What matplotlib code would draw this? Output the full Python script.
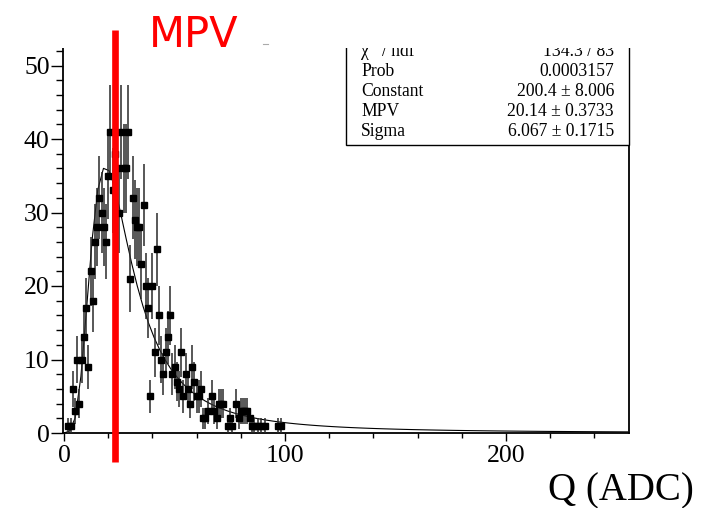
import numpy as np
import matplotlib
matplotlib.use("Agg")
import matplotlib.pyplot as plt
from matplotlib.patches import Rectangle
from matplotlib.lines import Line2D

# ---------------- data (histogram bin contents, bin width 1, centres at integers)
bin_centers = list(range(0, 100))
counts = [0, 0, 1, 1, 6, 3, 10, 4, 10, 13,
          17, 9, 22, 18, 26, 28, 32, 30, 28, 26,
          35, 41, 33, 38, 36, 30, 41, 36, 36, 41,
          21, 32, 29, 28, 28, 23, 31, 20, 17, 5,
          20, 11, 25, 16, 10, 8, 11, 13, 16, 8,
          9, 7, 6, 11, 5, 8, 6, 4, 9, 7,
          5, 5, 6, 2, 2, 3, 0, 5, 3, 2,
          4, 4, 4, 0, 1, 2, 1, 0, 4, 2,
          3, 3, 3, 3, 2, 1, 1, 0, 1, 1,
          0, 1, 0, 0, 0, 0, 0, 1, 1, 0]

# fit result (Landau)
fit_constant = 200.4
fit_mpv = 20.14
fit_sigma = 6.067

# (the superscript 2 of chi^2 is covered in the original slide)
stat_labels = ["\u03c7   / ndf", "Prob", "Constant", "MPV", "Sigma"]
stat_values = ["134.3 / 83", "0.0003157", "200.4 \u00b1 8.006",
               "20.14 \u00b1 0.3733", "6.067 \u00b1 0.1715"]

mpv_marker_x = 23.1
xlim = (-0.5, 255.5)
ylim = (0, 55)
x_major = [0, 100, 200]
x_minor = list(range(20, 256, 20))
y_major = [0, 10, 20, 30, 40, 50]
y_minor = list(range(0, 53, 2))
xlabel = "Q (ADC)"
annot = "MPV"


def landau_pdf(v):
    k = np.linspace(1e-9, 40.0, 40001)
    v = np.atleast_1d(v)[:, None]
    integ = np.exp(-np.pi / 2 * k) * np.cos(k * v + k * np.log(k))
    return np.trapezoid(integ, k, axis=1) / np.pi


W, H = 709, 508
fig = plt.figure(figsize=(W / 100, H / 100), dpi=100)
plt.rcParams['font.family'] = ['Liberation Serif', 'DejaVu Serif']


def fx(px):
    return px / W


def fy(py):
    return 1 - py / H


x0_px, x1_px = 62.9, 628.7
y0_px = 433.0
ppu_y = 7.35
ytop_px = y0_px - ylim[1] * ppu_y
ax = fig.add_axes([fx(x0_px), fy(y0_px), (x1_px - x0_px) / W, (y0_px - ytop_px) / H])
ax.set_xlim(*xlim)
ax.set_ylim(*ylim)

# histogram points with errors (empty bins not drawn)
xc = np.array(bin_centers, dtype=float)
yc = np.array(counts, dtype=float)
m = yc > 0
ax.errorbar(xc[m], yc[m], yerr=np.sqrt(yc[m]), fmt='s', color='black',
            ecolor='#2a2a2a', elinewidth=1.1, ms=4.4, capsize=0, zorder=3)

# fit curve
xf = np.linspace(0, 255, 101)
yf = fit_constant * landau_pdf((xf - fit_mpv) / fit_sigma)
ax.plot(xf, yf, color='black', lw=0.8, zorder=2)

# axes styling
ax.spines['top'].set_visible(False)
for s in ['left', 'bottom', 'right']:
    ax.spines[s].set_linewidth(1.3)
ax.set_xticks(x_major)
ax.set_xticks(x_minor, minor=True)
ax.set_yticks(y_major)
ax.set_yticks(y_minor, minor=True)
ax.tick_params(axis='x', which='major', direction='out', length=6, width=1, labelsize=18.5, pad=2.5)
ax.tick_params(axis='x', which='minor', direction='out', length=3.5, width=1)
ax.tick_params(axis='y', which='major', direction='out', length=8.5, width=1, labelsize=18.5, pad=1)
ax.tick_params(axis='y', which='minor', direction='out', length=5, width=1)

# stats box
box = Rectangle((fx(346), fy(145)), fx(x1_px) - fx(346), fy(20) - fy(145),
                transform=fig.transFigure, facecolor='white', edgecolor='black',
                lw=1.0, zorder=5)
fig.patches.append(box)
baselines = [56, 76, 96, 116, 136]
for lab, val, b in zip(stat_labels, stat_values, baselines):
    fig.text(fx(361), fy(b), lab, ha='left', va='baseline', fontsize=12.7, zorder=6)
    fig.text(fx(614), fy(b), val, ha='right', va='baseline', fontsize=12.7, zorder=6)

# white cover on top (slide overlay)
cover = Rectangle((0, fy(48)), 1, 1 - fy(48), transform=fig.transFigure,
                  facecolor='white', edgecolor='none', zorder=10)
fig.patches.append(cover)

# red MPV marker line
red = Line2D([fx(115), fx(115)], [fy(462), fy(30)], transform=fig.transFigure,
             color='#ff0000', lw=4.8, zorder=11, solid_capstyle='butt')
fig.lines.append(red)
fig.text(fx(149), fy(47), annot, color='#ff0000', fontsize=30,
         family=['DejaVu Sans'], ha='left', va='baseline', zorder=12)
# small grey dash left over on the slide
fig.lines.append(Line2D([fx(263), fx(268)], [fy(44), fy(44)], transform=fig.transFigure,
                        color='#aaaaaa', lw=0.8, zorder=12))

# x axis label
fig.text(fx(694), fy(500), xlabel, ha='right', va='baseline', fontsize=28)

fig.savefig("out.png", dpi=100)
